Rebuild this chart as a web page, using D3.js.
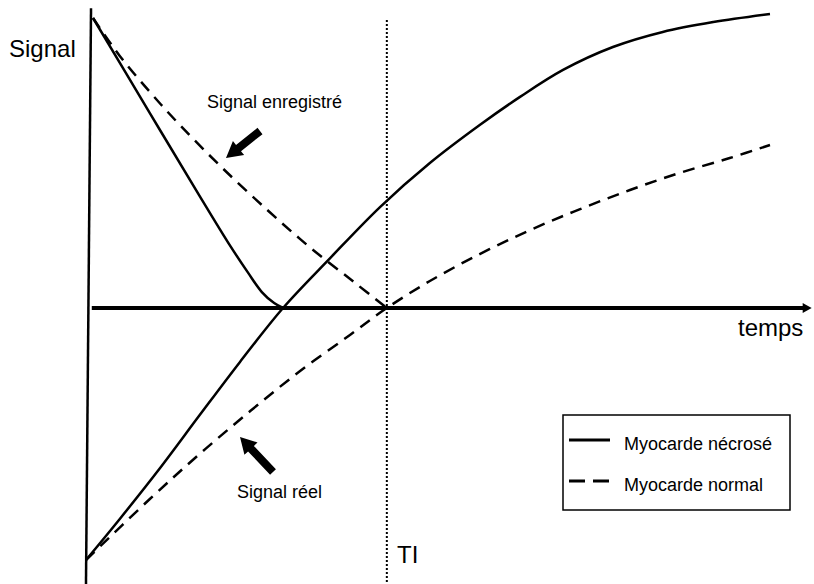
<!DOCTYPE html>
<html>
<head>
<meta charset="utf-8">
<script src="https://cdn.jsdelivr.net/npm/d3@7"></script>
<style>
  body { margin: 0; background: #fff; }
  svg { display: block; font-family: "Liberation Sans", Arial, sans-serif; }
</style>
</head>
<body>
<svg id="chart"></svg>
<script>
// Data: time (ms) and normalised signal
const realNecrose = [
  [-1.5, -1], [48, -0.837], [107, -0.635], [165, -0.425], [224, -0.214], [287, 0],
  [356, 0.172], [429, 0.348], [502, 0.5], [575, 0.631], [634, 0.728], [697, 0.821],
  [770, 0.9], [843, 0.952], [917, 0.986], [1000, 1.014]
];
const realNormal = [
  [-1.5, -1], [92, -0.758], [165, -0.579], [239, -0.409], [312, -0.25], [385, -0.107],
  [439, 0], [502, 0.093], [575, 0.186], [649, 0.269], [722, 0.341], [795, 0.407],
  [868, 0.466], [941, 0.517], [1000, 0.562]
];
const recordedNecrose = [
  [8.8, 1], [92, 0.672], [165, 0.386], [209, 0.217], [236, 0.121], [256, 0.055], [274, 0.017], [287, 0]
];
const recordedNormal = [
  [8.8, 1], [48, 0.869], [92, 0.745], [136, 0.631], [195, 0.49], [264, 0.338], [326, 0.21], [389, 0.093], [439, 0]
];
const TI = 439;
const legendLabels = ['Myocarde nécrosé', 'Myocarde normal'];

const width = 814, height = 584;

const svg = d3.select('#chart')
  .attr('width', width)
  .attr('height', height);

// Scales (y is piecewise: the drawing is not symmetric around zero)
const xScale = d3.scaleLinear().domain([0, 1000]).range([87, 770]);
const yScale = d3.scaleLinear().domain([-1, 0, 1]).range([560, 308, 18]);

const line = d3.line()
  .x(d => xScale(d[0]))
  .y(d => yScale(d[1]))
  .curve(d3.curveCatmullRom.alpha(0.5));

// Vertical axis (slightly slanted in the original)
svg.append('line')
  .attr('x1', xScale(5.9)).attr('y1', yScale(1.034))
  .attr('x2', xScale(-1.5)).attr('y2', 584)
  .attr('stroke', '#000').attr('stroke-width', 2.5);

// Horizontal axis with arrow
svg.append('line')
  .attr('x1', xScale(7)).attr('y1', yScale(0))
  .attr('x2', xScale(1055)).attr('y2', yScale(0))
  .attr('stroke', '#000').attr('stroke-width', 4);

const ax = xScale(1061), ay = yScale(0);
svg.append('path')
  .attr('d', `M${ax},${ay} L${ax - 9},${ay - 5} L${ax - 9},${ay + 5} Z`)
  .attr('fill', '#000');

// TI dotted line
svg.append('line')
  .attr('x1', xScale(TI)).attr('y1', 20)
  .attr('x2', xScale(TI)).attr('y2', height)
  .attr('stroke', '#000').attr('stroke-width', 2)
  .attr('stroke-dasharray', '2,2');

// Curves
const curves = [
  { data: realNecrose, dash: null },
  { data: realNormal, dash: '12,8' },
  { data: recordedNecrose, dash: null },
  { data: recordedNormal, dash: '12,8' }
];

curves.forEach(c => {
  svg.append('path')
    .datum(c.data)
    .attr('d', line)
    .attr('fill', 'none')
    .attr('stroke', '#000')
    .attr('stroke-width', 2.5)
    .attr('stroke-dasharray', c.dash);
});

// Block arrows
function blockArrow(x1, y1, x2, y2) {
  const len = Math.hypot(x2 - x1, y2 - y1);
  const angle = Math.atan2(y2 - y1, x2 - x1) * 180 / Math.PI;
  const shaft = 4, head = 9, headLen = 16;
  const pts = [
    [0, -shaft], [len - headLen, -shaft], [len - headLen, -head], [len, 0],
    [len - headLen, head], [len - headLen, shaft], [0, shaft]
  ];
  svg.append('path')
    .attr('d', 'M' + pts.map(p => p.join(',')).join('L') + 'Z')
    .attr('transform', `translate(${x1},${y1}) rotate(${angle})`)
    .attr('fill', '#000');
}
blockArrow(260, 131, 226, 158);
blockArrow(273, 472, 240, 437);

// Labels
const label = (x, y, txt, size) => svg.append('text')
  .attr('x', x).attr('y', y)
  .attr('font-size', size)
  .text(txt);

label(9, 57, 'Signal', 24);
label(738, 336, 'temps', 24);
label(397, 563, 'TI', 24);
label(207, 108, 'Signal enregistré', 18);
label(237, 498, 'Signal réel', 18);

// Legend
svg.append('rect')
  .attr('x', 563).attr('y', 415)
  .attr('width', 227).attr('height', 95)
  .attr('fill', '#fff')
  .attr('stroke', '#000').attr('stroke-width', 1.5);

legendLabels.forEach((name, i) => {
  const y = 440 + i * 41;
  svg.append('line')
    .attr('x1', 569).attr('x2', 610)
    .attr('y1', y).attr('y2', y)
    .attr('stroke', '#000').attr('stroke-width', 3)
    .attr('stroke-dasharray', i ? '16,8' : null);
  label(624, y + 10, name, 18);
});
</script>
</body>
</html>
